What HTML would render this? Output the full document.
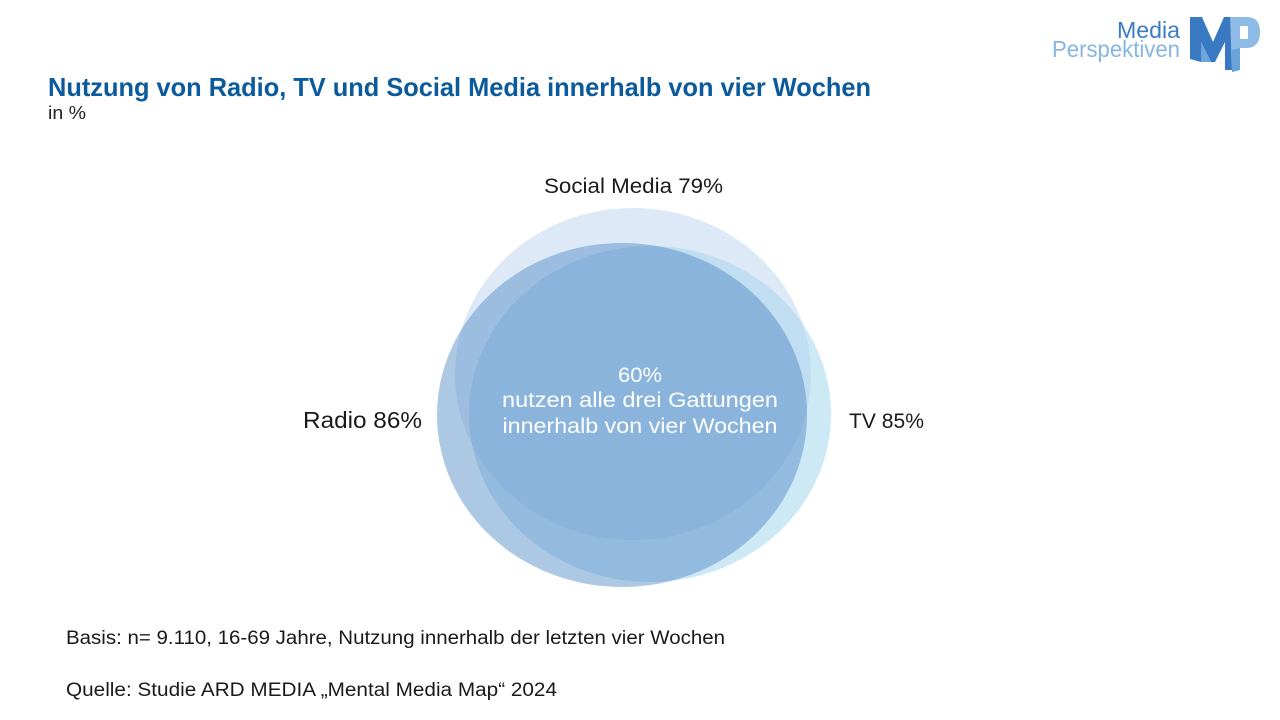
<!DOCTYPE html>
<html>
<head>
<meta charset="utf-8">
<style>
  html,body{margin:0;padding:0;background:#fff;}
  svg{display:block;}
  text{font-family:"Liberation Sans", sans-serif;}
</style>
</head>
<body>
<svg width="1280" height="720" viewBox="0 0 1280 720" xmlns="http://www.w3.org/2000/svg">
  <defs>
    <clipPath id="cS"><ellipse cx="633" cy="374" rx="178" ry="166"/></clipPath>
    <clipPath id="cR"><ellipse cx="622" cy="415" rx="185" ry="172"/></clipPath>
    <clipPath id="cT"><ellipse cx="650" cy="414" rx="181" ry="168"/></clipPath>
  </defs>

  <!-- Logo -->
  <text x="1180" y="38" font-size="23" fill="#3b7cc4" text-anchor="end" textLength="63" lengthAdjust="spacingAndGlyphs">Media</text>
  <text x="1180" y="57" font-size="23" fill="#86b5e2" text-anchor="end" textLength="128" lengthAdjust="spacingAndGlyphs">Perspektiven</text>
  <polygon points="1190,17 1202,17 1213,42 1224,17 1236,17 1236,70 1225,70 1225,42 1215,62 1211,62 1201,42 1201,62 1190,59" fill="#3879c2"/>
  <polygon points="1201,42 1211,62 1201,62" fill="#6ea6dc"/>
  <path d="M1230,17 L1247,17 Q1260,17 1260,32 Q1260,48 1246,48 L1240,48 L1240,70 L1232,72 Z" fill="#8dbbe6"/>
  <path d="M1240,48 L1240,70 L1232,72 L1232,50 Z" fill="#6aa3da"/>
  <rect x="1240" y="26" width="8" height="13" fill="#ffffff"/>

  <!-- Title -->
  <text x="48" y="96" font-size="26" font-weight="bold" fill="#0a5a9c" textLength="823" lengthAdjust="spacingAndGlyphs">Nutzung von Radio, TV und Social Media innerhalb von vier Wochen</text>
  <text x="48" y="119" font-size="18" fill="#222" textLength="38" lengthAdjust="spacingAndGlyphs">in %</text>

  <!-- Venn base shapes -->
  <ellipse cx="633" cy="374" rx="178" ry="166" fill="#dde9f6"/>
  <ellipse cx="650" cy="414" rx="181" ry="168" fill="#cce9f5"/>
  <ellipse cx="622" cy="415" rx="185" ry="172" fill="#adc8e3"/>
  <!-- S ∩ R -->
  <g clip-path="url(#cS)"><ellipse cx="622" cy="415" rx="185" ry="172" fill="#9cbde0"/></g>
  <!-- S ∩ T -->
  <g clip-path="url(#cS)"><ellipse cx="650" cy="414" rx="181" ry="168" fill="#c1ddf1"/></g>
  <!-- R ∩ T -->
  <g clip-path="url(#cR)"><ellipse cx="650" cy="414" rx="181" ry="168" fill="#93bbdf"/></g>
  <!-- S ∩ R ∩ T -->
  <g clip-path="url(#cS)"><g clip-path="url(#cR)"><ellipse cx="650" cy="414" rx="181" ry="168" fill="#8ab4db"/></g></g>

  <!-- Labels -->
  <text x="544" y="193" font-size="21" fill="#1a1a1a" textLength="179" lengthAdjust="spacingAndGlyphs">Social Media 79%</text>
  <text x="303" y="428" font-size="23" fill="#1a1a1a" textLength="119" lengthAdjust="spacingAndGlyphs">Radio 86%</text>
  <text x="849" y="428" font-size="21" fill="#1a1a1a" textLength="75" lengthAdjust="spacingAndGlyphs">TV 85%</text>

  <!-- Center text -->
  <text x="640" y="382" font-size="21" fill="#ffffff" text-anchor="middle" textLength="44" lengthAdjust="spacingAndGlyphs">60%</text>
  <text x="640" y="407" font-size="21" fill="#ffffff" text-anchor="middle" textLength="276" lengthAdjust="spacingAndGlyphs">nutzen alle drei Gattungen</text>
  <text x="640" y="433" font-size="21" fill="#ffffff" text-anchor="middle" textLength="275" lengthAdjust="spacingAndGlyphs">innerhalb von vier Wochen</text>

  <!-- Footer -->
  <text x="66" y="644" font-size="19" fill="#1a1a1a" textLength="659" lengthAdjust="spacingAndGlyphs">Basis: n= 9.110, 16-69 Jahre, Nutzung innerhalb der letzten vier Wochen</text>
  <text x="66" y="696" font-size="19" fill="#1a1a1a" textLength="491" lengthAdjust="spacingAndGlyphs">Quelle: Studie ARD MEDIA „Mental Media Map“ 2024</text>
</svg>
</body>
</html>
